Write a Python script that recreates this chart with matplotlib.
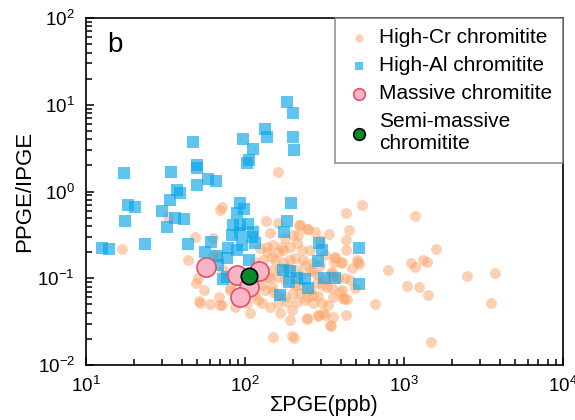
import numpy as np
import matplotlib
matplotlib.use('Agg')
import matplotlib.pyplot as plt
from matplotlib.ticker import LogLocator, NullFormatter

plt.rcParams['font.family'] = ['Liberation Sans', 'DejaVu Sans']
plt.rcParams['mathtext.default'] = 'regular'

# High-Cr chromitite (sum PGE ppb, PPGE/IPGE)
cr_x = [161.4, 545, 431.5, 1172, 450.8, 337.3, 275.4, 245.5, 221.8, 431.5, 1589, 368.1, 363.1,
        401.8, 514, 521, 793, 1107, 1172, 1316, 1396, 2489, 3733, 1045, 1242, 1416, 3524, 658,
        1479, 347.5, 357.3, 492, 407.4, 419.8, 357.3, 438.5, 431.5, 357.3, 318.4, 287.7, 245.5,
        347.5,
        16.8, 32.8, 48.5, 43.8, 50.6, 49.2, 55.2, 52.1, 60.2, 69.6, 68.6, 71.7, 62.9, 62.9, 80.5,
        86.5, 150.1, 197.6, 203.2,
        135.6, 161.4, 218.8, 248.9, 200.4, 215.3, 150.1, 171, 191.9, 212.3, 228, 256.4, 124.3,
        137.5, 368.1, 407.4, 506, 129.8, 154.5, 173.4, 206.1, 231.7, 267.9, 352.4, 425.6, 384.6,
        256.4, 267.9, 129.8, 143.6, 158.9, 283.8, 304.8, 328.1, 352.4, 395.5, 413, 133.6, 150.1,
        161.4, 178.6, 200.4, 221.8, 245.5, 267.9, 127.9, 143.6, 161.4, 183.7, 212.3, 238.2, 267.9,
        304.8, 287.7, 309.7, 197.6, 245.5, 342.8,
        67.7, 72.7, 80.5, 71.7, 51.4, 86.5, 103, 120.7, 147.9, 147.9, 137.5, 137.5, 161.4, 147.9,
        69.6,
        115.5, 100, 115.5, 127.9, 178.6, 206.1, 221.8, 238.2, 296.5, 318.4, 191.9, 173.4, 112.2,
        124.3, 221.8, 186.4, 209.5, 166, 287.7, 318.4, 256.4, 287.7, 332.4, 191.9, 166, 107.5,
        471, 457, 431.5, 296.5, 178.6, 143.6]
cr_y = [1.68, 0.70, 0.565, 0.52, 0.36, 0.324, 0.34, 0.37, 0.41, 0.212, 0.217, 0.171, 0.154,
        0.15, 0.154, 0.146, 0.125, 0.15, 0.135, 0.162, 0.154, 0.106, 0.115, 0.081, 0.079, 0.064,
        0.052, 0.05, 0.0184, 0.115, 0.106, 0.077, 0.073, 0.058, 0.061, 0.058, 0.038, 0.036, 0.038,
        0.037, 0.034, 0.028,
        0.217, 0.51, 0.30, 0.162, 0.10, 0.088, 0.073, 0.052, 0.05, 0.049, 0.061, 0.66, 0.29,
        0.185, 0.073, 0.093, 0.021, 0.0216, 0.0205,
        0.457, 0.433, 0.41, 0.37, 0.315, 0.315, 0.242, 0.229, 0.229, 0.255, 0.212, 0.212, 0.223,
        0.20, 0.176, 0.154, 0.162, 0.162, 0.162, 0.154, 0.171, 0.162, 0.15, 0.118, 0.10, 0.10,
        0.125, 0.118, 0.109, 0.10, 0.103, 0.088, 0.084, 0.079, 0.077, 0.069, 0.059, 0.073, 0.069,
        0.064, 0.061, 0.068, 0.068, 0.061, 0.064, 0.052, 0.047, 0.052, 0.053, 0.053, 0.056, 0.052,
        0.052, 0.038, 0.040, 0.043, 0.035, 0.029,
        0.176, 0.125, 0.077, 0.049, 0.055, 0.047, 0.052, 0.056, 0.125, 0.079, 0.103, 0.229, 0.20,
        0.176, 0.61,
        0.154, 0.073, 0.064, 0.084, 0.095, 0.084, 0.109, 0.142, 0.142, 0.185, 0.162, 0.212, 0.095,
        0.131, 0.084, 0.131, 0.125, 0.131, 0.109, 0.095, 0.073, 0.062, 0.049, 0.033, 0.04, 0.04,
        0.131, 0.095, 0.276, 0.276, 0.29, 0.333]

# High-Al chromitite
al_x = [183.7, 200, 134, 137.5, 200, 97, 47.1, 112, 203, 106, 103, 49.9, 49.9, 34.2, 17.3, 58.5,
        65.7, 49.9, 37.4, 39.0, 33.7, 18.4, 20.3, 30.1, 93.1, 98.6, 194.5, 89.1, 17.6, 36.3, 41.5,
        32.3, 183.7, 175.8, 84.1, 93.1, 104.5, 112.2, 82.8, 93.1, 110.6, 115.5, 95.8, 61.1, 23.5,
        12.6, 13.95, 43.8, 56.0, 66.7, 78.2, 89.1, 106, 67.7, 77.1, 72.7, 77.1, 291.7, 304.8,
        287.7, 521, 173.4, 191.9, 189.2, 212.3, 238.2, 248.9, 166, 314.1, 368.1, 521]
al_y = [10.8, 8.0, 5.25, 4.24, 4.24, 4.03, 3.72, 3.09, 3.01, 2.31, 2.13, 2.02, 1.87, 1.68, 1.63,
        1.39, 1.32, 1.19, 1.04, 0.96, 0.80, 0.70, 0.66, 0.60, 0.74, 0.63, 0.74, 0.565, 0.457,
        0.495, 0.48, 0.39, 0.457, 0.34, 0.41, 0.41, 0.42, 0.34, 0.315, 0.333, 0.30, 0.255, 0.242,
        0.262, 0.248, 0.223, 0.217, 0.248, 0.20, 0.18, 0.223, 0.212, 0.162, 0.142, 0.171, 0.098,
        0.103, 0.255, 0.212, 0.158, 0.223, 0.125, 0.121, 0.09, 0.10, 0.098, 0.077, 0.064, 0.10,
        0.10, 0.086]

# Massive and semi-massive chromitite
mas_x = [56.9, 89.1, 122.5, 106, 93.1]
mas_y = [0.135, 0.109, 0.121, 0.079, 0.061]
semi_x = [106]
semi_y = [0.106]

fig = plt.figure(figsize=(5.75, 4.2), dpi=100)
ax = fig.add_axes([0.1496, 0.131, 0.8296, 0.826])

ax.scatter(cr_x, cr_y, s=62, marker='o', color='#FBA569', alpha=0.5, linewidths=0,
           label='High-Cr chromitite', zorder=2)
ax.scatter(al_x, al_y, s=66, marker='s', color='#0AA6E8', alpha=0.65, linewidths=0,
           label='High-Al chromitite', zorder=3)
ax.scatter(mas_x, mas_y, s=190, marker='o', facecolor='#F7B5C8', edgecolor='#E0506A',
           linewidths=1.2, label='Massive chromitite', zorder=4)
ax.scatter(semi_x, semi_y, s=140, marker='o', facecolor='#0A8A2A', edgecolor='black',
           linewidths=1.2, label='Semi-massive\nchromitite', zorder=5)

ax.set_xscale('log')
ax.set_yscale('log')
ax.set_xlim(10, 1e4)
ax.set_ylim(1e-2, 1e2)
ax.xaxis.set_major_locator(LogLocator(base=10, numticks=10))
ax.yaxis.set_major_locator(LogLocator(base=10, numticks=10))
ax.xaxis.set_minor_locator(LogLocator(base=10, subs=np.arange(2, 10), numticks=20))
ax.yaxis.set_minor_locator(LogLocator(base=10, subs=np.arange(2, 10), numticks=20))
ax.xaxis.set_minor_formatter(NullFormatter())
ax.yaxis.set_minor_formatter(NullFormatter())
ax.tick_params(which='both', direction='in', top=False, right=False, labelsize=13.5, width=1.1)
ax.tick_params(which='major', length=6, pad=8)
ax.tick_params(which='minor', length=4)
for sp in ax.spines.values():
    sp.set_linewidth(1.2)

ax.set_xlabel('ΣPGE(ppb)', fontsize=15.5, labelpad=-1)
ax.set_ylabel('PPGE/IPGE', fontsize=16, labelpad=2)
ax.text(0.045, 0.922, 'b', transform=ax.transAxes, fontsize=20, va='center', ha='left')

leg = ax.legend(loc='upper right', fontsize=15, frameon=True, fancybox=False,
                borderaxespad=0, handletextpad=0.35, labelspacing=0.42, borderpad=0.5,
                handlelength=1.3)
for h, s in zip(leg.legend_handles, [36, 36, 70, 70]):
    h.set_sizes([s])
leg.get_frame().set_edgecolor('#777777')
leg.get_frame().set_linewidth(1.2)

fig.savefig('out.png', dpi=100)
